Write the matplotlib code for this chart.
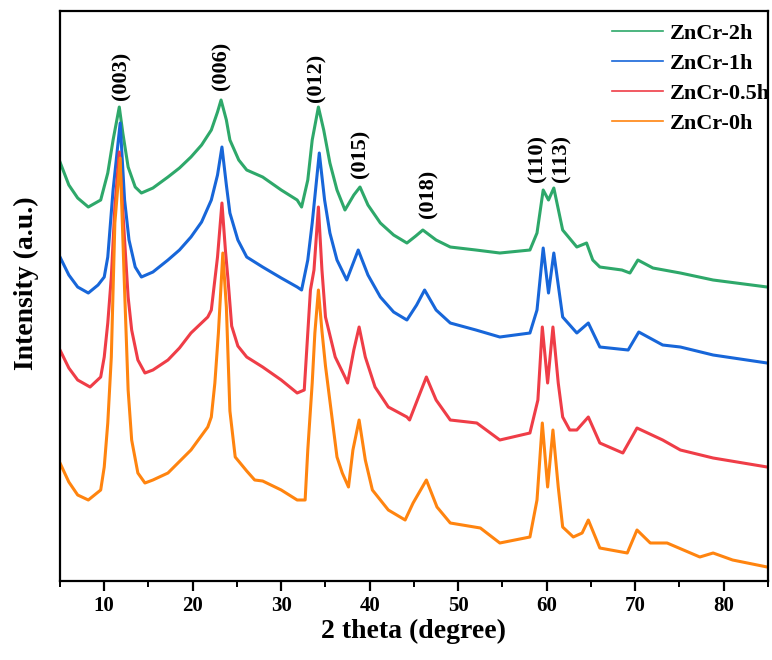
import matplotlib
matplotlib.use("Agg")
import matplotlib.pyplot as plt
from matplotlib.ticker import MultipleLocator

plt.rcParams["font.family"] = ["Liberation Serif", "DejaVu Serif"]
plt.rcParams["font.weight"] = "bold"

# ---- XRD patterns (offset intensity, a.u.) ----
tt_2h = [5.0, 6.0, 7.0, 8.2, 9.6, 10.4, 11.0, 11.7, 12.1, 12.7, 13.5, 14.2, 15.5, 17.2, 18.5,
         19.8, 21.0, 22.1, 22.8, 23.2, 23.8, 24.2, 25.2, 26.1, 27.9, 30.0, 31.8, 32.3, 33.0,
         33.5, 34.2, 34.8, 35.5, 36.3, 37.2, 38.2, 38.9, 39.8, 41.2, 42.7, 44.2, 45.2, 46.0,
         47.5, 49.1, 52.0, 54.7, 58.1, 58.9, 59.6, 60.2, 60.8, 61.8, 63.4, 64.5, 65.2, 66.0,
         68.5, 69.4, 70.3, 72.0, 75.1, 78.8, 84.9]
int_2h = [419, 396, 383, 374, 381, 408, 441, 474, 448, 414, 394, 388, 393, 404, 413,
          424, 436, 451, 469, 481, 461, 441, 421, 411, 404, 391, 381, 374, 401,
          441, 474, 451, 418, 391, 371, 386, 394, 376, 358, 346, 338, 345, 351,
          341, 334, 331, 328, 331, 348, 391, 381, 393, 351, 334, 338, 321, 314,
          311, 308, 321, 313, 308, 301, 294]

tt_1h = [5.0, 6.0, 7.0, 8.2, 9.3, 10.0, 10.4, 11.0, 11.8, 12.3, 12.8, 13.5, 14.2, 15.5, 17.2,
         18.5, 19.8, 21.0, 22.1, 22.8, 23.3, 23.8, 24.2, 25.1, 26.1, 27.9, 30.0, 31.8, 32.3,
         33.0, 33.5, 34.3, 34.9, 35.5, 36.3, 37.4, 38.7, 39.8, 41.2, 42.7, 44.2, 45.3, 46.2,
         47.5, 49.1, 52.0, 54.7, 58.1, 58.9, 59.6, 60.2, 60.8, 61.8, 63.4, 64.7, 66.0, 69.2,
         70.4, 73.1, 75.1, 78.8, 84.9]
int_1h = [324, 306, 294, 288, 296, 304, 324, 391, 458, 381, 341, 314, 304, 309, 321,
          331, 344, 359, 381, 406, 434, 396, 368, 341, 324, 314, 303, 294, 291,
          321, 358, 428, 381, 348, 321, 301, 331, 306, 284, 269, 261, 276, 291,
          271, 258, 251, 244, 248, 271, 333, 288, 328, 264, 248, 258, 234, 231,
          249, 236, 234, 226, 218]

tt_05h = [5.0, 6.0, 7.0, 8.4, 9.6, 10.0, 10.4, 10.8, 11.2, 11.7, 12.3, 12.7, 13.1, 13.8, 14.6,
          15.5, 17.2, 18.5, 19.8, 21.7, 22.1, 22.8, 23.3, 23.7, 24.0, 24.4, 25.1, 26.1, 27.9,
          30.0, 31.8, 32.6, 33.3, 33.7, 34.2, 34.6, 35.0, 36.1, 37.2, 37.5, 38.2, 38.8, 39.5,
          40.6, 42.1, 44.2, 44.5, 45.6, 46.4, 47.5, 49.1, 52.1, 54.7, 58.1, 59.0, 59.5, 60.1,
          60.7, 61.3, 61.8, 62.6, 63.4, 64.7, 66.0, 68.6, 70.2, 73.1, 75.1, 78.8, 84.9]
int_05h = [231, 213, 201, 194, 204, 224, 258, 304, 374, 429, 341, 284, 251, 221, 208,
           211, 221, 233, 248, 264, 271, 324, 378, 330, 300, 255, 235, 224, 214,
           201, 188, 191, 291, 311, 374, 311, 264, 224, 204, 198, 231, 254, 224,
           194, 174, 164, 161, 186, 204, 181, 161, 158, 141, 148, 181, 254, 198,
           254, 198, 164, 151, 151, 164, 138, 128, 153, 141, 131, 123, 114]

tt_0h = [5.0, 6.0, 7.0, 8.2, 9.6, 10.0, 10.4, 10.8, 11.2, 11.8, 12.3, 12.7, 13.1, 13.8, 14.6,
         15.5, 17.2, 19.8, 21.7, 22.1, 22.5, 22.9, 23.4, 23.8, 24.2, 24.8, 26.1, 27.0, 27.9,
         30.0, 31.8, 32.7, 33.0, 33.5, 33.8, 34.2, 34.6, 35.0, 35.5, 36.3, 36.9, 37.6, 38.1,
         38.8, 39.5, 40.3, 42.1, 44.0, 44.9, 46.4, 47.6, 49.1, 52.5, 54.7, 58.1, 58.9, 59.5,
         60.1, 60.7, 61.3, 61.8, 63.0, 64.0, 64.7, 66.0, 69.1, 70.2, 71.7, 73.6, 77.3, 78.8,
         81.0, 84.9]
int_0h = [118, 99, 86, 81, 91, 114, 158, 224, 358, 423, 291, 191, 141, 108, 98,
          101, 108, 131, 154, 164, 198, 248, 328, 274, 170, 124, 110, 101, 100,
          91, 81, 81, 131, 198, 248, 291, 250, 215, 180, 124, 108, 94, 131,
          161, 121, 91, 71, 61, 78, 101, 74, 58, 53, 38, 44, 81, 158,
          94, 151, 94, 54, 44, 48, 61, 33, 28, 51, 38, 38, 24, 28,
          21, 14]

series_labels = ["ZnCr-2h", "ZnCr-1h", "ZnCr-0.5h", "ZnCr-0h"]
series_colors = ["#2EA86A", "#1766D9", "#EF3D47", "#FF840F"]

# Miller indices and where their labels sit (2theta, intensity)
hkl_labels = ["(003)", "(006)", "(012)", "(015)", "(018)", "(110)", "(113)"]
hkl_x = [11.9, 23.2, 34.0, 38.9, 46.6, 58.9, 61.7]
hkl_y = [481, 491, 479, 403, 363, 399, 399]

fig = plt.figure(figsize=(7.72, 6.6), dpi=100)
ax = fig.add_axes([0.0777, 0.1197, 0.9171, 0.8636])

patterns = [(tt_2h, int_2h), (tt_1h, int_1h), (tt_05h, int_05h), (tt_0h, int_0h)]
for (x, y), lab, col in zip(patterns, series_labels, series_colors):
    ax.plot(x, y, color=col, lw=2.2, label=lab)

for lab, x, y in zip(hkl_labels, hkl_x, hkl_y):
    ax.text(x, y, lab, rotation=90, ha="center", va="bottom",
            fontsize=16, fontweight="bold")

ax.set_xlim(5, 85)
ax.set_ylim(0, 570)
ax.xaxis.set_major_locator(MultipleLocator(10))
ax.xaxis.set_minor_locator(MultipleLocator(5))
ax.set_yticks([])
ax.tick_params(axis="x", which="major", direction="out", length=7, width=1.6,
               labelsize=15, pad=4)
ax.tick_params(axis="x", which="minor", direction="out", length=4, width=1.4)
for lbl in ax.get_xticklabels():
    lbl.set_fontweight("bold")
for sp in ax.spines.values():
    sp.set_linewidth(1.6)

ax.set_xlabel("2 theta (degree)", fontsize=20, fontweight="bold", labelpad=2)
ax.set_ylabel("Intensity (a.u.)", fontsize=20, fontweight="bold")
ax.yaxis.set_label_coords(-0.030, 0.523)

leg = ax.legend(loc="upper right", bbox_to_anchor=(1.012, 0.99), frameon=False,
                fontsize=16, handlelength=2.3, handletextpad=0.3,
                labelspacing=0.42, borderaxespad=0.0, borderpad=0.3)
for t in leg.get_texts():
    t.set_fontweight("bold")
for h in leg.get_lines():
    h.set_linewidth(1.2)

fig.savefig("out.png", dpi=100)
